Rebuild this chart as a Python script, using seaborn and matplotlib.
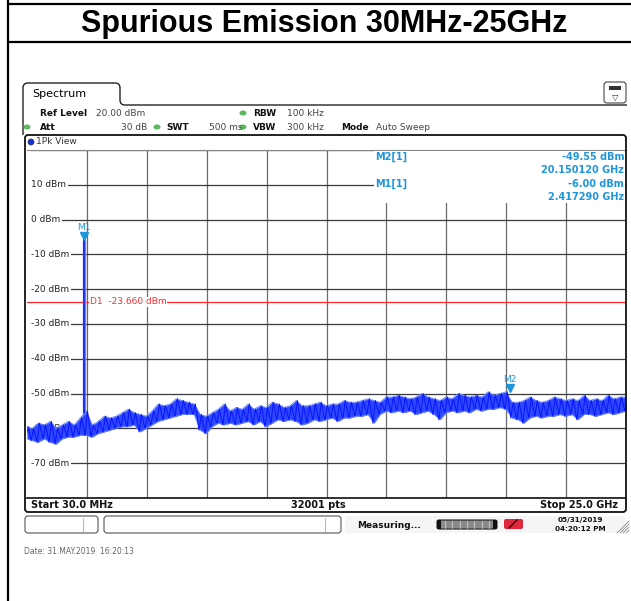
import numpy as np
import pandas as pd
import matplotlib
matplotlib.use('agg')
import matplotlib.pyplot as plt
import matplotlib.patches as mpatches
import matplotlib.transforms as mtransforms
from matplotlib.path import Path
import seaborn as sns

title = "Spurious Emission 30MHz-25GHz"
start_ghz = 0.03
stop_ghz = 25.0
ref_level = 20.0
bottom_level = -80.0
label_levels = [10, 0, -10, -20, -30, -40, -50, -60, -70]
d1_level = -23.66
m1_freq, m1_level = 2.41729, -6.00
m2_freq, m2_level = 20.15012, -49.55
sweep_points = 32001

# noise band (GHz, lower / upper edge in dBm)
freq_ghz = [0.03, 0.25, 0.50, 0.75, 1.00, 1.25, 1.50, 1.75, 2.00, 2.25,
            2.50, 2.75, 3.00, 3.25, 3.50, 3.75, 4.00, 4.25, 4.50, 4.75,
            5.00, 5.25, 5.50, 5.75, 6.00, 6.25, 6.50, 6.75, 7.00, 7.25,
            7.50, 7.75, 8.00, 8.25, 8.50, 8.75, 9.00, 9.25, 9.50, 9.75,
            10.00, 10.25, 10.50, 10.75, 11.00, 11.25, 11.50, 11.75, 12.00, 12.25,
            12.50, 12.75, 13.00, 13.25, 13.50, 13.75, 14.00, 14.25, 14.50, 14.75,
            15.00, 15.25, 15.50, 15.75, 16.00, 16.25, 16.50, 16.75, 17.00, 17.25,
            17.50, 17.75, 18.00, 18.25, 18.50, 18.75, 19.00, 19.25, 19.50, 19.75,
            20.00, 20.25, 20.50, 20.75, 21.00, 21.25, 21.50, 21.75, 22.00, 22.25,
            22.50, 22.75, 23.00, 23.25, 23.50, 23.75, 24.00, 24.25, 24.50, 24.75,
            25.00]
trace_low = [-63.0, -63.5, -64.0, -63.0, -64.0, -64.5, -63.0, -62.5, -62.5, -62.0,
             -62.0, -62.5, -61.5, -61.0, -60.5, -60.0, -59.5, -59.5, -59.0, -61.0,
             -60.0, -59.0, -58.0, -57.5, -57.0, -56.5, -56.0, -56.0, -56.0, -60.5,
             -61.5, -59.5, -58.5, -59.0, -58.5, -59.0, -58.5, -58.0, -59.0, -58.0,
             -59.5, -58.5, -57.5, -58.0, -57.5, -58.0, -59.0, -58.5, -57.5, -58.0,
             -57.5, -57.0, -58.0, -57.0, -57.0, -56.5, -56.5, -56.0, -58.5, -56.0,
             -55.0, -55.5, -55.0, -55.5, -55.0, -56.0, -55.5, -55.0, -56.0, -57.5,
             -55.5, -55.0, -55.5, -55.0, -55.5, -54.5, -55.0, -54.5, -54.5, -54.0,
             -54.5, -57.0, -57.5, -58.5, -57.0, -56.5, -57.0, -56.5, -56.5, -56.0,
             -56.5, -56.0, -57.5, -56.0, -56.0, -56.5, -56.0, -55.5, -56.0, -55.5,
             -55.0]
trace_high = [-59.5, -60.0, -58.5, -59.0, -58.0, -60.0, -59.0, -58.0, -59.0, -57.0,
              -55.0, -59.0, -58.0, -56.5, -57.0, -56.5, -55.5, -54.5, -55.5, -56.0,
              -56.5, -55.0, -53.0, -53.5, -53.0, -51.5, -52.0, -52.5, -53.0, -56.0,
              -56.5, -55.5, -54.5, -53.0, -55.0, -54.0, -54.5, -53.0, -54.5, -53.5,
              -54.0, -52.5, -53.0, -54.0, -53.5, -52.0, -53.5, -53.5, -53.0, -52.5,
              -53.5, -53.0, -53.0, -52.0, -52.5, -52.5, -52.0, -51.5, -52.0, -52.5,
              -51.0, -51.0, -50.5, -51.0, -51.5, -51.0, -50.0, -51.0, -51.5, -52.0,
              -51.0, -51.5, -50.0, -50.5, -51.0, -50.5, -51.0, -49.5, -50.5, -50.0,
              -49.5, -52.5, -52.5, -52.0, -51.0, -52.0, -52.5, -52.0, -51.0, -51.5,
              -52.0, -51.5, -52.0, -50.5, -52.0, -51.5, -52.0, -50.5, -51.5, -51.0,
              -51.0]

W, H = 631, 601
MARK = '#1e96dc'
TRACE = '#0a14ff'
RED = '#ff2a2a'

sns.set_style("white")
plt.rcParams['font.family'] = ['DejaVu Sans']
plt.rcParams['text.color'] = 'black'

fig = plt.figure(figsize=(W / 100, H / 100), dpi=100)

# ---- measurement diagram ----
ax = fig.add_axes([27 / W, 1 - 498 / H, 599 / W, 348 / H], zorder=2)
ax.set_xlim(start_ghz, stop_ghz)
ax.set_ylim(bottom_level, ref_level)
ax.set_xticks(np.linspace(start_ghz, stop_ghz, 11)[1:-1])
ax.set_yticks(np.arange(bottom_level, ref_level + 1, 10))
ax.tick_params(length=0, labelbottom=False, labelleft=False)
ax.xaxis.grid(True, color='#6a6a6a', linewidth=0.9)
ax.yaxis.grid(True, color='#3a3a3a', linewidth=0.9)
for side, sp in ax.spines.items():
    sp.set_visible(side in ('top', 'bottom'))
ax.spines['top'].set_color('#888888')
ax.spines['bottom'].set_color('#111111')
ax.spines['bottom'].set_linewidth(1.2)
# blank strip in front of the level labels
ax.add_patch(mpatches.Rectangle((0, 0), 0.007, 1, transform=ax.transAxes,
                                fc='white', ec='none', zorder=2.5))

df = pd.DataFrame({'freq': freq_ghz, 'low': trace_low, 'high': trace_high})
ax.fill_between(df['freq'], df['low'], df['high'], color='#2d48ff', lw=0, zorder=4)
for edge in ('low', 'high'):
    ax.plot(df['freq'], df[edge], color='#6a86ff', lw=0.7, zorder=4)
zig = pd.DataFrame({
    'freq': np.column_stack([df['freq'] - 0.05, df['freq'] + 0.05]).ravel(),
    'level': np.column_stack([df['low'], df['high']]).ravel(),
})
sns.lineplot(data=zig, x='freq', y='level', ax=ax, color=TRACE, lw=0.7,
             estimator=None, sort=False, zorder=5)
ax.set_xlabel('')
ax.set_ylabel('')

# carrier spike (M1)
base = np.interp(m1_freq, freq_ghz, trace_high)
ax.plot([m1_freq, m1_freq], [base, m1_level], color='#6a86ff', lw=2.4, zorder=5)
ax.plot([m1_freq, m1_freq], [base, m1_level], color=TRACE, lw=1.1, zorder=5)

# display line D1
ax.axhline(d1_level, color=RED, lw=0.9, zorder=3)
ax.text(0.105, d1_level, f"D1  {d1_level:.3f} dBm", transform=ax.get_yaxis_transform(),
        color=RED, fontsize=6.5, va='center', ha='left', zorder=3,
        bbox=dict(fc='white', ec='none', pad=0.6))

# level labels on the grid lines
for lv in label_levels:
    ax.text(0.0065, lv, f"{lv} dBm", transform=ax.get_yaxis_transform(),
            fontsize=6.5, color='#222222', va='center', ha='left', zorder=3,
            bbox=dict(fc='white', ec='none', pad=1.2))

# markers
up = mtransforms.offset_copy(ax.transData, fig=fig, y=4, units='dots')
for name, f, lv in [("M1", m1_freq, m1_level), ("M2", m2_freq, m2_level)]:
    ax.plot(f, lv, marker='v', ms=5.5, color=MARK, transform=up, zorder=6)
    ax.annotate(name, (f, lv), xytext=(0, 9), textcoords='offset points',
                ha='center', va='center', color=MARK, fontsize=6.5, zorder=6)

# ---- instrument screen furniture (pixel overlay) ----
ov = fig.add_axes([0, 0, 1, 1], zorder=10)
ov.set_xlim(0, W)
ov.set_ylim(H, 0)
ov.axis('off')

# document frame + title
ov.plot([8, 8], [0, H], color='black', lw=1.6)
ov.plot([8, W], [4, 4], color='black', lw=1.6)
ov.plot([8, W], [42, 42], color='black', lw=1.6)
ov.text(324, 32, title, ha='center', va='baseline', fontsize=22,
        fontweight='bold', color='black', family=['Liberation Sans', 'DejaVu Sans'])

# spectrum tab outline
tab = Path([(23, 135), (23, 88), (23, 83), (28, 83), (115, 83), (120, 83), (120, 88),
            (120, 100), (120, 105), (125, 105), (627, 105)],
           [Path.MOVETO, Path.LINETO, Path.CURVE3, Path.CURVE3, Path.LINETO, Path.CURVE3,
            Path.CURVE3, Path.LINETO, Path.CURVE3, Path.CURVE3, Path.LINETO])
ov.add_patch(mpatches.PathPatch(tab, fc='none', ec='#222222', lw=1.0))
ov.text(32, 94, "Spectrum", fontsize=8, va='center', ha='left', color='black')

# top right icon
ov.add_patch(mpatches.FancyBboxPatch((604, 82), 22, 21, boxstyle='round,pad=0,rounding_size=3',
                                     fc='white', ec='#444444', lw=0.8))
ov.add_patch(mpatches.Rectangle((609, 86), 12, 4, fc='#333333', ec='none'))
ov.text(615, 97, "\u25BD", fontsize=6, ha='center', va='center', color='#333333')

# settings lines
green = '#5cb85c'
for gx, gy in [(243, 113), (27, 127), (157, 127), (243, 127)]:
    ov.add_patch(mpatches.Ellipse((gx, gy), 7, 5, fc=green, ec='none'))
bold_items = [("Ref Level", 40, 113), ("RBW", 253, 113), ("Att", 40, 127),
              ("SWT", 166, 127), ("VBW", 253, 127), ("Mode", 341, 127)]
plain_items = [("20.00 dBm", 96, 113), ("100 kHz", 287, 113), ("500 ms", 209, 127),
               ("300 kHz", 287, 127), ("Auto Sweep", 376, 127)]
for txt, tx, ty in bold_items:
    ov.text(tx, ty, txt, fontsize=6.5, fontweight='bold', va='center', ha='left', color='#111111')
for txt, tx, ty in plain_items:
    ov.text(tx, ty, txt, fontsize=6.5, va='center', ha='left', color='#444444')
ov.text(147, 127, "30 dB", fontsize=6.5, va='center', ha='right', color='#444444')

# 1Pk View window
ov.add_patch(mpatches.FancyBboxPatch((25, 135), 601, 377, boxstyle='round,pad=0,rounding_size=3',
                                     fc='none', ec='#111111', lw=1.3))
ov.add_patch(mpatches.Circle((31, 142), 3, fc='#1030e0', ec='#333333', lw=0.5))
ov.text(36, 142, "1Pk View", fontsize=6.5, va='center', ha='left', color='#333333')

# marker table
ov.add_patch(mpatches.Rectangle((374, 151), 251, 52, fc='white', ec='none'))
mk = dict(fontsize=7, fontweight='bold', color=MARK, va='center')
ov.text(375, 157, "M2[1]", ha='left', **mk)
ov.text(624, 157, f"{m2_level:.2f} dBm", ha='right', **mk)
ov.text(624, 170, f"{m2_freq:.6f} GHz", ha='right', **mk)
ov.text(375, 184, "M1[1]", ha='left', **mk)
ov.text(624, 184, f"{m1_level:.2f} dBm", ha='right', **mk)
ov.text(624, 197, f"{m1_freq:.6f} GHz", ha='right', **mk)

# footer of the diagram
ft = dict(fontsize=7, fontweight='bold', va='center', color='#111111')
ov.text(31, 505, f"Start {start_ghz * 1000:.1f} MHz", ha='left', **ft)
ov.text(318, 505, f"{sweep_points} pts", ha='center', **ft)
ov.text(618, 505, f"Stop {stop_ghz:.1f} GHz", ha='right', **ft)

# status bar
for bx, bw, div in [(25, 73, 83), (104, 237, 325)]:
    ov.add_patch(mpatches.FancyBboxPatch((bx, 516), bw, 17, boxstyle='round,pad=0,rounding_size=3',
                                         fc='white', ec='#555555', lw=0.8))
    ov.plot([div, div], [518, 531], color='#bbbbbb', lw=0.8)
ov.add_patch(mpatches.Rectangle((345, 516), 280, 17, fc='#f5f5f5', ec='none', zorder=0))
ov.text(389, 525, "Measuring...", fontsize=6.5, fontweight='bold', ha='center', va='center', color='#111111')
ov.add_patch(mpatches.FancyBboxPatch((437, 520), 60, 9, boxstyle='round,pad=0,rounding_size=2',
                                     fc='#8a8a8a', ec='#222222', lw=0.8))
for px in np.linspace(445, 489, 7):
    ov.plot([px, px], [521, 528], color='#c8c8c8', lw=0.7)
ov.add_patch(mpatches.Rectangle((437, 520), 4, 9, fc='#111111', ec='none'))
ov.add_patch(mpatches.Rectangle((493, 520), 4, 9, fc='#111111', ec='none'))
ov.add_patch(mpatches.FancyBboxPatch((504, 519), 19, 10, boxstyle='round,pad=0,rounding_size=2',
                                     fc='#e0283c', ec='none'))
ov.plot([509, 517], [528, 520], color='#5a0010', lw=1.2)
ov.text(580, 520, "05/31/2019", fontsize=5.2, fontweight='bold', ha='center', va='center', color='#111111')
ov.text(580, 529, "04:20:12 PM", fontsize=5.2, fontweight='bold', ha='center', va='center', color='#111111')
for k in range(4):
    ov.plot([617 + 3 * k, 629], [533, 521 + 3 * k], color='#888888', lw=0.6)

ov.text(24, 551, "Date: 31.MAY.2019  16:20:13", fontsize=5.5, ha='left', va='center', color='#666666')

plt.savefig('out.png', dpi=100)
